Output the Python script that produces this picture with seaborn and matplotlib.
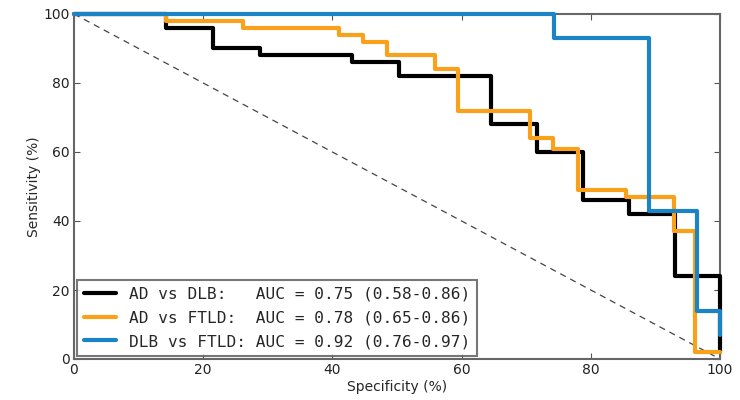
import numpy as np
import pandas as pd
import matplotlib
matplotlib.use("Agg")
import matplotlib.pyplot as plt
import seaborn as sns
from matplotlib.lines import Line2D

# ---- data ----
labels = [
    "AD vs DLB:   AUC = 0.75 (0.58-0.86)",
    "AD vs FTLD:  AUC = 0.78 (0.65-0.86)",
    "DLB vs FTLD: AUC = 0.92 (0.76-0.97)",
]
ad_dlb_spec = [0, 14.3, 21.5, 28.8, 43.0, 50.3, 64.5, 71.6, 78.8, 85.9, 93.0, 100]
ad_dlb_sens = [100, 96, 90, 88, 86, 82, 68, 60, 46, 42, 24, 2]
ad_ftld_spec = [0, 14.3, 26.2, 41.0, 44.7, 48.4, 55.9, 59.4, 70.6, 74.2, 78.0, 85.4, 92.9, 96.1, 100]
ad_ftld_sens = [100, 98, 96, 94, 92, 88, 84, 72, 64, 61, 49, 47, 37, 2, 2]
dlb_ftld_spec = [0, 74.3, 89.0, 96.5, 100]
dlb_ftld_sens = [100, 93, 43, 14, 7]
colors = ["#000000", "#F9A11B", "#1B84C6"]

frames = []
for lab, xs, ys in zip(labels,
                       [ad_dlb_spec, ad_ftld_spec, dlb_ftld_spec],
                       [ad_dlb_sens, ad_ftld_sens, dlb_ftld_sens]):
    frames.append(pd.DataFrame({"spec": xs, "sens": ys, "curve": lab,
                                "order": np.arange(len(xs))}))
df = pd.concat(frames, ignore_index=True)

sns.set_style("white")
plt.rcParams["font.family"] = ["DejaVu Sans"]

fig = plt.figure(figsize=(7.4, 4.0), dpi=100)
ax = fig.add_axes([0.1, 0.1025, 0.873, 0.8625])

ax.plot([0, 100], [100, 0], linestyle=(0, (5, 4)), color="#444444", lw=0.9, zorder=1)

sns.lineplot(data=df, x="spec", y="sens", hue="curve", hue_order=labels,
             palette=colors, estimator=None, sort=False, units="curve",
             drawstyle="steps-post", linewidth=3, ax=ax, legend=False,
             zorder=3, clip_on=False)

ax.set_xlim(0, 100)
ax.set_ylim(0, 100)
ax.set_xticks([0, 20, 40, 60, 80, 100])
ax.set_yticks([0, 20, 40, 60, 80, 100])
ax.set_xlabel("Specificity (%)", fontsize=10, labelpad=2)
ax.set_ylabel("Sensitivity (%)", fontsize=10, labelpad=2)
ax.tick_params(direction="in", length=4, width=0.8, colors="#555555",
               labelcolor="#222222", labelsize=10, top=True, right=True,
               bottom=True, left=True, pad=3)
for s in ax.spines.values():
    s.set_visible(True)
    s.set_color("#666666")
    s.set_linewidth(1.5)

handles = [Line2D([0], [0], color=c, lw=3) for c in colors]
leg = ax.legend(handles, labels, loc="lower left",
                prop={"family": "DejaVu Sans Mono", "size": 11.6},
                frameon=True, fancybox=False, handlelength=2.0, borderpad=0.42,
                labelspacing=0.55, handletextpad=0.8, borderaxespad=0.2)
leg.get_frame().set_edgecolor("#555555")
leg.get_frame().set_linewidth(1.5)
leg.set_zorder(5)

fig.savefig("out.png", dpi=100)
